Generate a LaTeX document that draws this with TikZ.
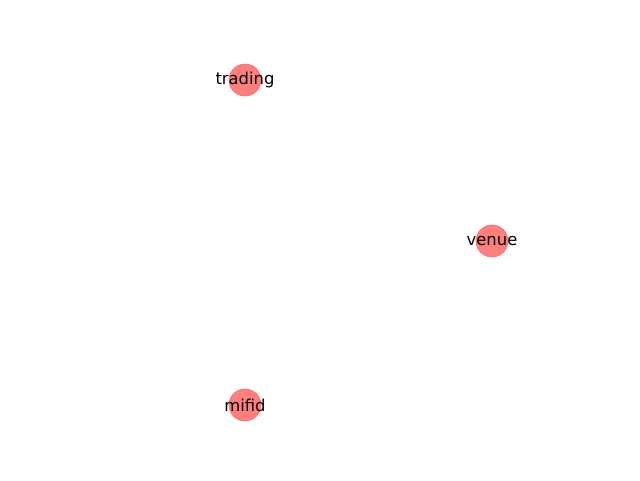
\documentclass[tikz,border=0pt]{standalone}
\usepackage{fontspec}
\setmainfont{DejaVu Sans}
\definecolor{nodered}{HTML}{FF7F7F}
\definecolor{nodeedge}{HTML}{F86A6A}
\begin{document}
\begin{tikzpicture}[x=1pt,y=-1pt,
  vertex/.style={circle,fill=nodered,draw=nodeedge,line width=0.6pt,minimum size=32pt,inner sep=0pt},
  lbl/.style={font=\fontsize{16.4}{18}\selectfont,text=black,inner sep=0pt}]
\useasboundingbox[fill=white] (0,0) rectangle (640,480);
\node[vertex] (trading) at (245,80) {};
\node[vertex] (venue) at (492,241) {};
\node[vertex] (mifid) at (245,405) {};
\node[lbl] (tradingl) at (trading) {trading};
\node[lbl] (venuel) at (venue) {venue};
\node[lbl] (mifidl) at (mifid) {mifid};
\end{tikzpicture}
\end{document}
